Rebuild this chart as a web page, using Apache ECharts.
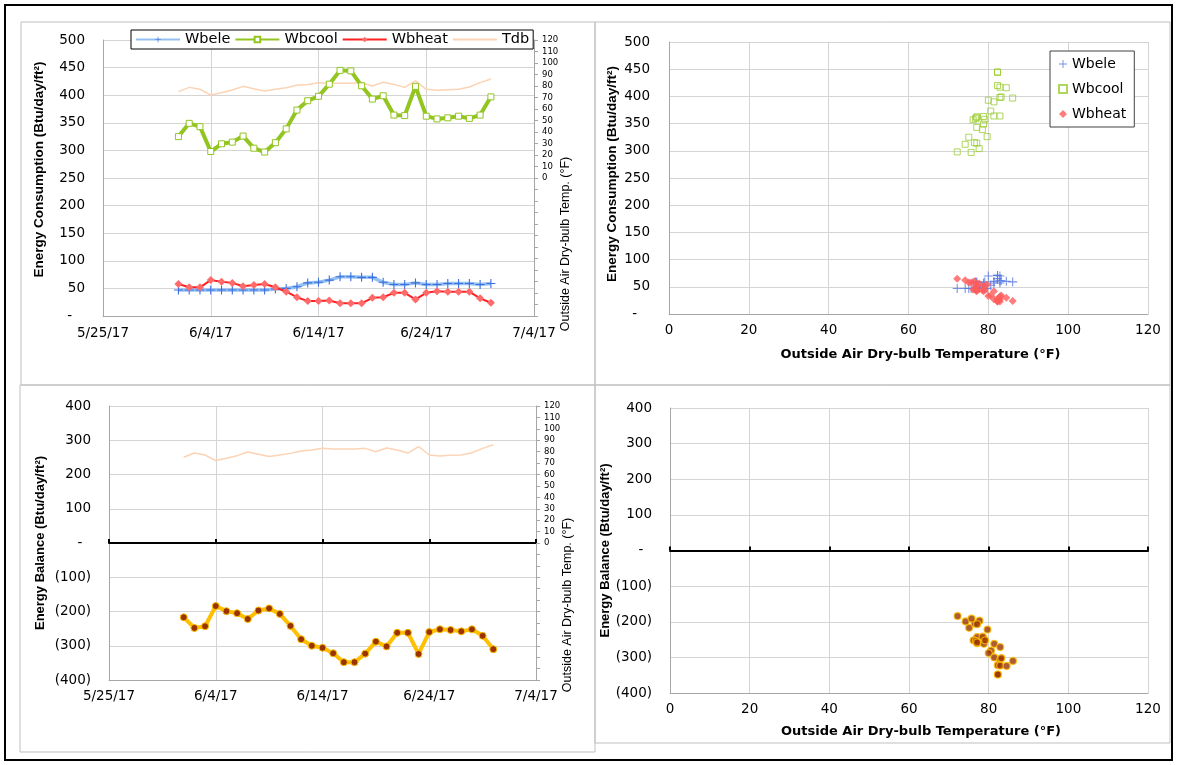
<!DOCTYPE html>
<html><head><meta charset="utf-8">
<script src="https://cdn.jsdelivr.net/npm/echarts@6/dist/echarts.min.js"></script>
<style>html,body{margin:0;padding:0;background:#fff}#c{width:1177px;height:765px}</style>
</head><body><div id="c"></div>
<script>
// ---------- data ----------
const axisStartLabel = '5/25/17';
const axisEndLabel = '7/4/17';
const dates = ['6/1/17','6/2/17','6/3/17','6/4/17','6/5/17','6/6/17','6/7/17','6/8/17','6/9/17','6/10/17',
  '6/11/17','6/12/17','6/13/17','6/14/17','6/15/17','6/16/17','6/17/17','6/18/17','6/19/17','6/20/17',
  '6/21/17','6/22/17','6/23/17','6/24/17','6/25/17','6/26/17','6/27/17','6/28/17','6/29/17','6/30/17'];
const wbele = [47,47,47,47,47,47,47,47,47,49,50,53,60,61,65,71,71,70,70,61,57,57,60,57,57,59,59,59,57,59];
const wbcool = [325,349,343,298,312,315,326,304,297,314,339,373,390,398,420,445,444,417,393,399,364,363,416,362,357,359,362,358,364,397];
const wbheat = [58,52,52,65,62,60,54,56,58,52,44,34,27,27,28,23,23,23,33,34,42,42,30,42,45,44,44,44,32,24];
const tdb = [75.1,78.8,77.1,72.2,74.2,76.5,79.7,77.7,75.7,77.1,78.5,80.6,81.4,82.9,82.3,82.3,82.3,82.9,80.0,83.2,81.4,78.8,84.5,77.1,76.2,76.8,77.1,79.1,82.9,86.1];
const balance = [-217,-248,-243,-184,-199,-205,-222,-197,-191,-207,-242,-281,-300,-306,-322,-348,-348,-323,-288,-302,-262,-262,-324,-260,-252,-254,-258,-252,-271,-310];

// ---------- helpers ----------
function parseDate(s){const p=s.split('/').map(Number);return Date.UTC(2000+p[2],p[0]-1,p[1]);}
const t0 = parseDate(axisStartLabel);
const DAY = 86400000;
const dayX = dates.map(s => (parseDate(s)-t0)/DAY);
const xMax = (parseDate(axisEndLabel)-t0)/DAY;
const dateFmt = v => {const d=new Date(t0+v*DAY);return (d.getUTCMonth()+1)+'/'+d.getUTCDate()+'/'+(d.getUTCFullYear()%100);};
const FONT = 'DejaVu Sans';
const TITLEFONT = 'Liberation Sans';
const gridLine = {show:true, lineStyle:{color:'#d4d4d4', width:1}};
const axLine = {show:true, onZero:false, lineStyle:{color:'#a6a6a6', width:1}};
const lbl = (extra) => Object.assign({color:'#000', fontFamily:FONT, fontSize:13.5}, extra||{});
const plus = 'path://M4.4,0h1.2v4.4h4.4v1.2h-4.4v4.4h-1.2v-4.4h-4.4v-1.2h4.4z';
const pair = (xs, ys) => xs.map((x,i)=>[x, ys[i]]);
const consFmt = v => v===0 ? '-   ' : String(v);
const balFmt = v => v===0 ? '-  ' : (v<0 ? '('+(-v)+')' : String(v));
const tempFmt = v => v>=0 ? String(v) : '';

const chart = echarts.init(document.getElementById('c'), null, {renderer:'canvas'});

const option = {
  animation:false,
  backgroundColor:'#fff',
  grid:[
    {left:103, top:40, width:431, height:276},
    {left:669, top:42, width:479, height:272},
    {left:109, top:406, width:427, height:274},
    {left:670, top:408, width:478, height:285}
  ],
  xAxis:[
    {gridIndex:0, type:'value', min:0, max:xMax, interval:10, axisLine:axLine, axisTick:{show:false},
     axisLabel:lbl({formatter:dateFmt, margin:10}), splitLine:gridLine},
    {gridIndex:1, type:'value', min:0, max:120, interval:20, axisLine:axLine, axisTick:{show:false},
     axisLabel:lbl({margin:9}), splitLine:gridLine,
     name:'Outside Air Dry-bulb Temperature (°F)', nameLocation:'middle', nameGap:34,
     nameTextStyle:{fontFamily:FONT, fontWeight:'bold', fontSize:13, color:'#000', padding:[0,0,0,24]}},
    {gridIndex:2, type:'value', min:0, max:xMax, interval:10, axisLine:axLine, axisTick:{show:false},
     axisLabel:lbl({formatter:dateFmt, margin:9}), splitLine:gridLine},
    {gridIndex:2, type:'value', min:0, max:xMax, interval:10,
     axisLine:{show:true, onZero:true, lineStyle:{color:'#000', width:2}},
     axisTick:{show:true, length:4, lineStyle:{color:'#000', width:2}},
     axisLabel:{show:false}, splitLine:{show:false}},
    {gridIndex:3, type:'value', min:0, max:120, interval:20, axisLine:axLine, axisTick:{show:false},
     axisLabel:lbl({margin:9}), splitLine:gridLine,
     name:'Outside Air Dry-bulb Temperature (°F)', nameLocation:'middle', nameGap:32,
     nameTextStyle:{fontFamily:FONT, fontWeight:'bold', fontSize:13, color:'#000', padding:[0,0,0,24]}},
    {gridIndex:3, type:'value', min:0, max:120, interval:20,
     axisLine:{show:true, onZero:true, lineStyle:{color:'#000', width:2}},
     axisTick:{show:true, length:4, lineStyle:{color:'#000', width:2}},
     axisLabel:{show:false}, splitLine:{show:false}}
  ],
  yAxis:[
    {gridIndex:0, type:'value', min:0, max:500, interval:50, axisLine:axLine, axisTick:{show:false},
     axisLabel:lbl({formatter:consFmt, margin:18}), splitLine:gridLine,
     name:'Energy Consumption (Btu/day/ft²)', nameLocation:'middle', nameGap:57, nameRotate:90,
     nameTextStyle:{fontFamily:TITLEFONT, fontWeight:'bold', fontSize:13.5, color:'#000', padding:[0,0,0,17]}},
    {gridIndex:0, type:'value', position:'right', min:-120, max:120, interval:10,
     axisLine:{show:true, onZero:false, lineStyle:{color:'#a6a6a6'}},
     axisTick:{show:true, length:4, lineStyle:{color:'#a6a6a6'}},
     axisLabel:lbl({formatter:tempFmt, fontSize:8.5, margin:8}), splitLine:{show:false}},
    {gridIndex:1, type:'value', min:0, max:500, interval:50, axisLine:axLine, axisTick:{show:false},
     axisLabel:lbl({formatter:consFmt, margin:19}), splitLine:gridLine,
     name:'Energy Consumption (Btu/day/ft²)', nameLocation:'middle', nameGap:50, nameRotate:90,
     nameTextStyle:{fontFamily:TITLEFONT, fontWeight:'bold', fontSize:13.5, color:'#000', padding:[0,0,0,8]}},
    {gridIndex:2, type:'value', min:-400, max:400, interval:100, axisLine:axLine, axisTick:{show:false},
     axisLabel:lbl({formatter:balFmt, margin:18}), splitLine:gridLine,
     name:'Energy Balance (Btu/day/ft²)', nameLocation:'middle', nameGap:62, nameRotate:90,
     nameTextStyle:{fontFamily:TITLEFONT, fontWeight:'bold', fontSize:13, color:'#000'}},
    {gridIndex:2, type:'value', position:'right', min:-120, max:120, interval:10,
     axisLine:{show:true, onZero:false, lineStyle:{color:'#a6a6a6'}},
     axisTick:{show:true, length:4, lineStyle:{color:'#a6a6a6'}},
     axisLabel:lbl({formatter:tempFmt, fontSize:8.5, margin:8}), splitLine:{show:false}},
    {gridIndex:3, type:'value', min:-400, max:400, interval:100, axisLine:axLine, axisTick:{show:false},
     axisLabel:lbl({formatter:balFmt, margin:18}), splitLine:gridLine,
     name:'Energy Balance (Btu/day/ft²)', nameLocation:'middle', nameGap:50, nameRotate:90,
     nameTextStyle:{fontFamily:TITLEFONT, fontWeight:'bold', fontSize:13, color:'#000'}}
  ],
  legend:[
    {data:['Wbele','Wbcool','Wbheat',{name:'Tdb', itemStyle:{opacity:0}}], left:131, top:30, orient:'horizontal', itemGap:4,
     itemWidth:44, itemHeight:7, padding:[2,4,2,4], borderColor:'#000', borderWidth:1,
     backgroundColor:'#fff', selectedMode:false, z:10,
     textStyle:{fontFamily:FONT, fontSize:14.5, color:'#000'}},
    {data:['Wbele ','Wbcool ','Wbheat '], left:1050, top:51, orient:'vertical', itemGap:11,
     itemWidth:8, itemHeight:8, padding:[6,8,6,8], borderColor:'#404040', borderWidth:1,
     backgroundColor:'#fff', selectedMode:false, formatter:n=>n.trim(),
     textStyle:{fontFamily:FONT, fontSize:14, color:'#000'}}
  ],
  series:[
    {name:'Tdb', type:'line', xAxisIndex:0, yAxisIndex:1, data:pair(dayX,tdb), symbol:'none',
     lineStyle:{color:'#fcd3b4', width:1.5}, itemStyle:{color:'#fcd3b4'}, z:1},
    {name:'Wbele', type:'line', xAxisIndex:0, yAxisIndex:0, data:pair(dayX,wbele), symbol:plus, symbolSize:9,
     lineStyle:{color:'#95c0f2', width:3.5}, itemStyle:{color:'#3a6fe0'}, z:2},
    {name:'Wbcool', type:'line', xAxisIndex:0, yAxisIndex:0, data:pair(dayX,wbcool), symbol:'rect', symbolSize:6,
     lineStyle:{color:'#92c520', width:4}, itemStyle:{color:'#fff', borderColor:'#92c520', borderWidth:1}, z:3},
    {name:'Wbheat', type:'line', xAxisIndex:0, yAxisIndex:0, data:pair(dayX,wbheat), symbol:'diamond', symbolSize:8,
     lineStyle:{color:'#ff2020', width:2}, itemStyle:{color:'#ff6a6a'}, z:4},

    {name:'Wbele ', type:'scatter', xAxisIndex:1, yAxisIndex:2, data:pair(tdb,wbele), symbol:plus, symbolSize:9,
     itemStyle:{color:'#5577e0'}},
    {name:'Wbcool ', type:'scatter', xAxisIndex:1, yAxisIndex:2, data:pair(tdb,wbcool), symbol:'rect', symbolSize:6,
     itemStyle:{color:'rgba(255,255,255,0)', borderColor:'#9acd32', borderWidth:1}},
    {name:'Wbheat ', type:'scatter', xAxisIndex:1, yAxisIndex:2, data:pair(tdb,wbheat), symbol:'diamond', symbolSize:8,
     itemStyle:{color:'#ff5b5b'}},

    {name:'Tdb2', type:'line', xAxisIndex:2, yAxisIndex:4, data:pair(dayX,tdb), symbol:'none',
     lineStyle:{color:'#fcd3b4', width:1.5}, z:1},
    {name:'Balance', type:'line', xAxisIndex:2, yAxisIndex:3, data:pair(dayX,balance), symbol:'circle', symbolSize:7,
     lineStyle:{color:'#ffc000', width:4}, itemStyle:{color:'#993300', borderColor:'#ffc000', borderWidth:1}, z:3},

    {name:'Balance2', type:'scatter', xAxisIndex:4, yAxisIndex:5, data:pair(tdb,balance), symbol:'circle', symbolSize:7,
     itemStyle:{color:'#993300', borderColor:'#ffc000', borderWidth:1.2}}
  ],
  graphic:[
    {type:'rect', shape:{x:21,y:22,width:574,height:363}, style:{fill:'none', stroke:'#bfbfbf', lineWidth:1}, silent:true, z:-1},
    {type:'rect', shape:{x:595,y:22,width:575,height:363}, style:{fill:'none', stroke:'#bfbfbf', lineWidth:1}, silent:true, z:-1},
    {type:'rect', shape:{x:20,y:385,width:575,height:367}, style:{fill:'none', stroke:'#bfbfbf', lineWidth:1}, silent:true, z:-1},
    {type:'rect', shape:{x:595,y:385,width:575,height:358}, style:{fill:'none', stroke:'#bfbfbf', lineWidth:1}, silent:true, z:-1},
    {type:'rect', shape:{x:5,y:5,width:1167,height:755}, style:{fill:'none', stroke:'#000', lineWidth:2}, silent:true, z:-1},
    {type:'text', x:566, y:244, rotation:Math.PI/2, silent:true,
     style:{text:'Outside Air Dry-bulb Temp. (°F)', fontFamily:TITLEFONT, fontSize:12.5, fill:'#000', align:'center', verticalAlign:'middle'}},
    {type:'text', x:568, y:605, rotation:Math.PI/2, silent:true,
     style:{text:'Outside Air Dry-bulb Temp. (°F)', fontFamily:TITLEFONT, fontSize:12.5, fill:'#000', align:'center', verticalAlign:'middle'}}
  ]
};
chart.setOption(option);
</script>
</body></html>
